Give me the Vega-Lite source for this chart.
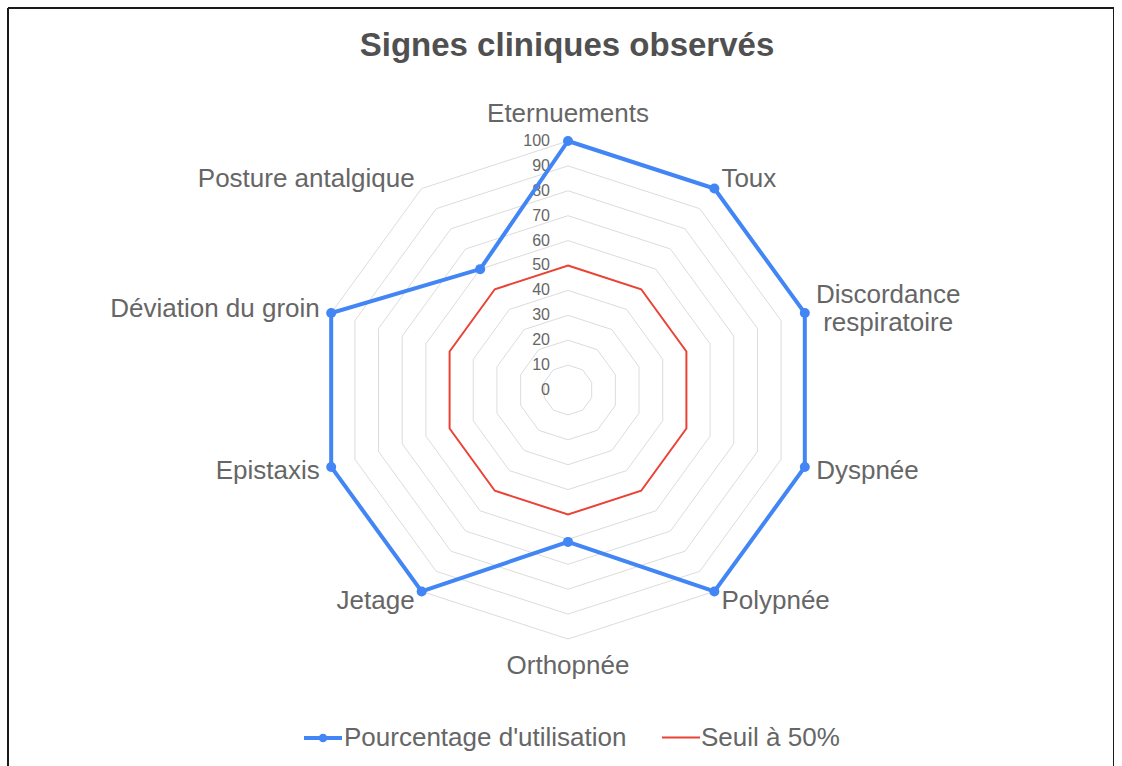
{
  "$schema": "https://vega.github.io/schema/vega-lite/v6.json",
  "width": 1106,
  "height": 758,
  "autosize": "none",
  "padding": {"left": 8, "top": 8, "right": 0, "bottom": 0},
  "background": "white",
  "config": {
    "view": {"stroke": "#1a1a1a", "strokeWidth": 2, "strokeDash": [1864, 1106, 758, 0]},
    "font": "Liberation Sans"
  },
  "title": {
    "text": "Signes cliniques observés",
    "font": "Liberation Sans",
    "fontSize": 33,
    "fontWeight": "bold",
    "color": "#505050",
    "anchor": "middle",
    "orient": "top",
    "offset": -55,
    "dx": 6
  },
  "datasets": {
    "signes": [
      {"signe": "Eternuements", "serie": "Pourcentage d'utilisation", "valeur": 100},
      {"signe": "Toux", "serie": "Pourcentage d'utilisation", "valeur": 100},
      {"signe": "Discordance respiratoire", "serie": "Pourcentage d'utilisation", "valeur": 100},
      {"signe": "Dyspnée", "serie": "Pourcentage d'utilisation", "valeur": 100},
      {"signe": "Polypnée", "serie": "Pourcentage d'utilisation", "valeur": 100},
      {"signe": "Orthopnée", "serie": "Pourcentage d'utilisation", "valeur": 61},
      {"signe": "Jetage", "serie": "Pourcentage d'utilisation", "valeur": 100},
      {"signe": "Epistaxis", "serie": "Pourcentage d'utilisation", "valeur": 100},
      {"signe": "Déviation du groin", "serie": "Pourcentage d'utilisation", "valeur": 100},
      {"signe": "Posture antalgique", "serie": "Pourcentage d'utilisation", "valeur": 60},
      {"signe": "Eternuements", "serie": "Seuil à 50%", "valeur": 50},
      {"signe": "Toux", "serie": "Seuil à 50%", "valeur": 50},
      {"signe": "Discordance respiratoire", "serie": "Seuil à 50%", "valeur": 50},
      {"signe": "Dyspnée", "serie": "Seuil à 50%", "valeur": 50},
      {"signe": "Polypnée", "serie": "Seuil à 50%", "valeur": 50},
      {"signe": "Orthopnée", "serie": "Seuil à 50%", "valeur": 50},
      {"signe": "Jetage", "serie": "Seuil à 50%", "valeur": 50},
      {"signe": "Epistaxis", "serie": "Seuil à 50%", "valeur": 50},
      {"signe": "Déviation du groin", "serie": "Seuil à 50%", "valeur": 50},
      {"signe": "Posture antalgique", "serie": "Seuil à 50%", "valeur": 50}
    ],
    "graduations": [
      {"g": 0}, {"g": 10}, {"g": 20}, {"g": 30}, {"g": 40}, {"g": 50},
      {"g": 60}, {"g": 70}, {"g": 80}, {"g": 90}, {"g": 100}
    ]
  },
  "layer": [
    {
      "data": {"name": "signes"},
      "transform": [
        {"filter": "datum.serie != 'Seuil à 50%'"},
        {"window": [{"op": "row_number", "as": "i"}], "groupby": ["serie"]},
        {"calculate": "(datum.i - 1) * 2 * PI / 10", "as": "a"},
        {"calculate": "[10, 20, 30, 40, 50, 60, 70, 80, 90, 100]", "as": "niveaux"},
        {"flatten": ["niveaux"], "as": ["niveau"]},
        {"calculate": "datum.niveau * sin(datum.a)", "as": "gx"},
        {"calculate": "datum.niveau * cos(datum.a)", "as": "gy"}
      ],
      "mark": {"type": "line", "interpolate": "linear-closed", "color": "#dcdcdc", "strokeWidth": 1},
      "encoding": {
        "x": {"field": "gx", "type": "quantitative", "scale": {"domain": [-224.9, 219.28], "nice": false, "zero": false}, "axis": null},
        "y": {"field": "gy", "type": "quantitative", "scale": {"domain": [-151.0, 153.41], "nice": false, "zero": false}, "axis": null},
        "detail": {"field": "niveau", "type": "quantitative"},
        "order": {"field": "i", "type": "quantitative"}
      }
    },
    {
      "data": {"name": "graduations"},
      "mark": {"type": "text", "align": "right", "baseline": "middle", "dx": -18, "fontSize": 16, "color": "#666666", "font": "Liberation Sans"},
      "encoding": {
        "x": {"datum": 0, "type": "quantitative"},
        "y": {"field": "g", "type": "quantitative"},
        "text": {"field": "g", "type": "quantitative"}
      }
    },
    {
      "data": {"name": "signes"},
      "transform": [
        {"window": [{"op": "row_number", "as": "i"}], "groupby": ["serie"]},
        {"calculate": "(datum.i - 1) * 2 * PI / 10", "as": "a"},
        {"calculate": "datum.valeur * sin(datum.a)", "as": "px"},
        {"calculate": "datum.valeur * cos(datum.a)", "as": "py"}
      ],
      "mark": {"type": "line", "interpolate": "linear-closed"},
      "encoding": {
        "x": {"field": "px", "type": "quantitative"},
        "y": {"field": "py", "type": "quantitative"},
        "order": {"field": "i", "type": "quantitative"},
        "strokeWidth": {
          "field": "serie", "type": "nominal",
          "scale": {"domain": ["Pourcentage d'utilisation", "Seuil à 50%"], "range": [4, 2]},
          "legend": null
        },
        "color": {
          "field": "serie", "type": "nominal",
          "scale": {"domain": ["Pourcentage d'utilisation", "Seuil à 50%"], "range": ["#4285f4", "#ea4335"]},
          "legend": {
            "orient": "none",
            "legendX": 294,
            "legendY": 709,
            "direction": "horizontal",
            "title": null,
            "symbolType": "stroke",
            "symbolSize": 1444,
            "symbolStrokeWidth": 2,
            "labelFont": "Liberation Sans",
            "labelFontSize": 26,
            "labelColor": "#666666",
            "labelLimit": 600,
            "labelOffset": 0,
            "columnPadding": 31,
            "encode": {
              "symbols": {
                "update": {
                  "shape": {"signal": "datum.value == 'Seuil à 50%' ? 'stroke' : 'M-1,0H1M-0.12,0A0.12,0.12,0,1,1,0.12,0A0.12,0.12,0,1,1,-0.12,0Z'"},
                  "strokeWidth": {"signal": "datum.value == 'Seuil à 50%' ? 2 : 4"},
                  "fill": {"signal": "datum.value == 'Seuil à 50%' ? 'transparent' : '#4285f4'"}
                }
              }
            }
          }
        }
      }
    },
    {
      "data": {"name": "signes"},
      "transform": [
        {"window": [{"op": "row_number", "as": "i"}], "groupby": ["serie"]},
        {"filter": "datum.serie != 'Seuil à 50%'"},
        {"calculate": "(datum.i - 1) * 2 * PI / 10", "as": "a"},
        {"calculate": "datum.valeur * sin(datum.a)", "as": "px"},
        {"calculate": "datum.valeur * cos(datum.a)", "as": "py"}
      ],
      "mark": {"type": "point", "filled": true, "size": 100, "color": "#4285f4", "opacity": 1},
      "encoding": {
        "x": {"field": "px", "type": "quantitative"},
        "y": {"field": "py", "type": "quantitative"}
      }
    },
    {
      "data": {"name": "signes"},
      "transform": [
        {"window": [{"op": "row_number", "as": "i"}], "groupby": ["serie"]},
        {"filter": "datum.serie != 'Seuil à 50%'"},
        {"calculate": "(datum.i - 1) * 2 * PI / 10", "as": "a"},
        {"calculate": "sin(datum.a)", "as": "s"},
        {"calculate": "length(split(datum.signe, ' '))", "as": "nmots"},
        {"calculate": "abs(datum.s) < 0.01 ? 110.8 : 104.8", "as": "r"},
        {"calculate": "datum.r * sin(datum.a)", "as": "lx"},
        {"calculate": "datum.r * cos(datum.a)", "as": "ly"},
        {"filter": "datum.s > 0.01 && datum.nmots == 1"}
      ],
      "mark": {"type": "text", "align": "left", "baseline": "middle", "fontSize": 26, "color": "#666666", "font": "Liberation Sans"},
      "encoding": {
        "x": {"field": "lx", "type": "quantitative"},
        "y": {"field": "ly", "type": "quantitative"},
        "text": {"field": "signe", "type": "nominal"}
      }
    },
    {
      "data": {"name": "signes"},
      "transform": [
        {"window": [{"op": "row_number", "as": "i"}], "groupby": ["serie"]},
        {"filter": "datum.serie != 'Seuil à 50%'"},
        {"calculate": "(datum.i - 1) * 2 * PI / 10", "as": "a"},
        {"calculate": "sin(datum.a)", "as": "s"},
        {"calculate": "length(split(datum.signe, ' '))", "as": "nmots"},
        {"calculate": "abs(datum.s) < 0.01 ? 110.8 : 104.8", "as": "r"},
        {"calculate": "datum.r * sin(datum.a)", "as": "lx"},
        {"calculate": "datum.r * cos(datum.a)", "as": "ly"},
        {"filter": "datum.s > 0.01 && datum.nmots > 1"}
      ],
      "mark": {"type": "text", "align": "center", "baseline": "middle", "dx": 72, "dy": -14, "lineBreak": " ", "lineHeight": 28, "fontSize": 26, "color": "#666666", "font": "Liberation Sans"},
      "encoding": {
        "x": {"field": "lx", "type": "quantitative"},
        "y": {"field": "ly", "type": "quantitative"},
        "text": {"field": "signe", "type": "nominal"}
      }
    },
    {
      "data": {"name": "signes"},
      "transform": [
        {"window": [{"op": "row_number", "as": "i"}], "groupby": ["serie"]},
        {"filter": "datum.serie != 'Seuil à 50%'"},
        {"calculate": "(datum.i - 1) * 2 * PI / 10", "as": "a"},
        {"calculate": "sin(datum.a)", "as": "s"},
        {"calculate": "abs(datum.s) < 0.01 ? 110.8 : 104.8", "as": "r"},
        {"calculate": "datum.r * sin(datum.a)", "as": "lx"},
        {"calculate": "datum.r * cos(datum.a)", "as": "ly"},
        {"filter": "datum.s < -0.01"}
      ],
      "mark": {"type": "text", "align": "right", "baseline": "middle", "fontSize": 26, "color": "#666666", "font": "Liberation Sans"},
      "encoding": {
        "x": {"field": "lx", "type": "quantitative"},
        "y": {"field": "ly", "type": "quantitative"},
        "text": {"field": "signe", "type": "nominal"}
      }
    },
    {
      "data": {"name": "signes"},
      "transform": [
        {"window": [{"op": "row_number", "as": "i"}], "groupby": ["serie"]},
        {"filter": "datum.serie != 'Seuil à 50%'"},
        {"calculate": "(datum.i - 1) * 2 * PI / 10", "as": "a"},
        {"calculate": "sin(datum.a)", "as": "s"},
        {"calculate": "abs(datum.s) < 0.01 ? 110.8 : 104.8", "as": "r"},
        {"calculate": "datum.r * sin(datum.a)", "as": "lx"},
        {"calculate": "datum.r * cos(datum.a)", "as": "ly"},
        {"filter": "abs(datum.s) <= 0.01"}
      ],
      "mark": {"type": "text", "align": "center", "baseline": "middle", "fontSize": 26, "color": "#666666", "font": "Liberation Sans"},
      "encoding": {
        "x": {"field": "lx", "type": "quantitative"},
        "y": {"field": "ly", "type": "quantitative"},
        "text": {"field": "signe", "type": "nominal"}
      }
    }
  ]
}
